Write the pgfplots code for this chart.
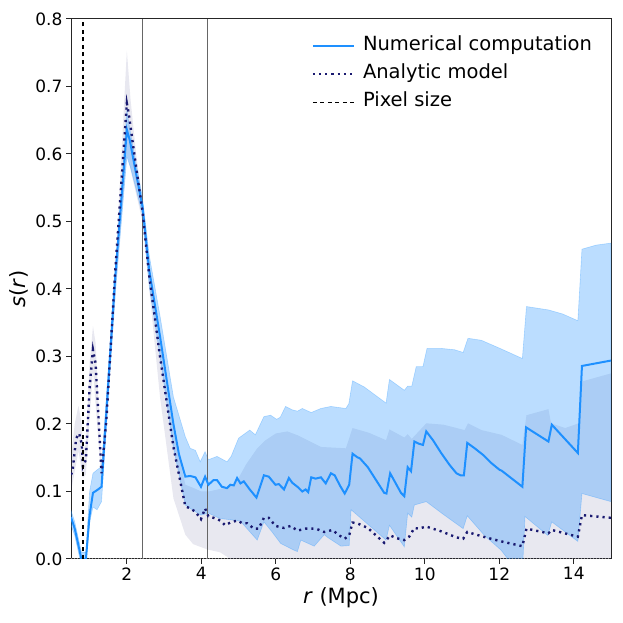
\documentclass[border=0pt]{standalone}
\usepackage{pgfplots}
\pgfplotsset{compat=1.18}
\usepackage{pgfplotstable}
\usepgfplotslibrary{fillbetween}
\usepackage{fontspec}
\setmainfont{DejaVu Sans}
\definecolor{numblue}{HTML}{1E90FF}
\definecolor{anablue}{HTML}{191970}

\pgfplotstableread{
x y
0.50 0.062
0.60 0.045
0.70 0.020
0.78 0.000
0.90 0.000
1.00 0.065
1.09 0.098
1.20 0.102
1.32 0.107
1.50 0.260
1.68 0.413
1.85 0.530
2.00 0.636
2.08 0.620
2.25 0.570
2.42 0.522
2.60 0.428
2.89 0.330
3.07 0.265
3.25 0.200
3.40 0.155
3.57 0.122
3.70 0.123
3.84 0.121
3.99 0.107
4.10 0.122
4.19 0.110
4.33 0.117
4.42 0.117
4.55 0.107
4.69 0.105
4.78 0.110
4.87 0.109
4.96 0.120
5.05 0.112
5.14 0.115
5.30 0.103
5.48 0.091
5.68 0.124
5.81 0.122
5.99 0.110
6.08 0.111
6.22 0.103
6.35 0.120
6.44 0.113
6.58 0.107
6.71 0.100
6.80 0.103
6.87 0.099
6.95 0.121
7.07 0.119
7.21 0.121
7.34 0.112
7.48 0.127
7.58 0.124
7.73 0.108
7.85 0.097
7.97 0.110
8.06 0.156
8.18 0.151
8.26 0.149
8.47 0.136
8.69 0.117
8.91 0.098
8.97 0.097
9.07 0.127
9.23 0.111
9.36 0.098
9.45 0.093
9.54 0.136
9.63 0.130
9.72 0.174
9.83 0.171
9.95 0.169
10.04 0.189
10.22 0.176
10.44 0.157
10.67 0.139
10.85 0.127
10.96 0.124
11.05 0.124
11.14 0.172
11.34 0.164
11.57 0.154
11.79 0.142
12.01 0.132
12.06 0.131
12.62 0.107
12.72 0.195
13.32 0.174
13.41 0.199
14.11 0.157
14.22 0.286
15.00 0.294
}\numline

\pgfplotstableread{
x y
0.50 0.072
0.60 0.055
0.70 0.030
0.78 0.010
0.90 0.010
1.00 0.100
1.09 0.127
1.20 0.132
1.32 0.137
1.50 0.280
1.70 0.430
2.00 0.665
2.10 0.630
2.42 0.535
2.60 0.450
2.89 0.360
3.25 0.240
3.57 0.181
3.70 0.164
3.84 0.161
3.97 0.144
4.10 0.159
4.19 0.147
4.42 0.152
4.69 0.144
4.80 0.152
5.00 0.179
5.15 0.185
5.30 0.191
5.45 0.184
5.68 0.211
5.86 0.213
6.02 0.207
6.12 0.210
6.26 0.226
6.44 0.221
6.58 0.219
6.71 0.223
6.95 0.217
7.21 0.223
7.48 0.226
7.88 0.223
7.96 0.230
8.06 0.264
8.37 0.255
8.64 0.244
8.96 0.231
9.05 0.266
9.45 0.250
9.54 0.256
9.65 0.256
9.77 0.285
9.95 0.285
10.06 0.312
10.44 0.312
10.80 0.310
11.03 0.306
11.16 0.327
11.52 0.324
12.06 0.311
12.62 0.297
12.73 0.374
13.32 0.369
13.70 0.363
14.11 0.353
14.22 0.459
14.60 0.465
15.00 0.468
}\numhi

\pgfplotstableread{
x y
0.50 0.050
0.60 0.035
0.70 0.010
0.78 -0.010
0.90 -0.010
1.00 0.055
1.09 0.077
1.20 0.073
1.32 0.085
1.50 0.240
1.70 0.400
2.00 0.596
2.10 0.580
2.42 0.510
2.60 0.405
2.89 0.300
3.25 0.165
3.57 0.080
3.70 0.075
3.99 0.065
4.19 0.068
4.50 0.060
4.80 0.058
5.05 0.056
5.50 0.028
5.68 0.055
5.90 0.040
6.13 0.023
6.49 0.013
6.58 0.011
6.67 0.028
7.03 0.019
7.30 0.036
7.39 0.032
7.75 0.019
7.97 0.020
8.02 0.073
8.50 0.050
8.96 0.028
9.05 0.050
9.45 0.018
9.54 0.068
9.65 0.062
9.72 0.080
10.04 0.085
10.50 0.066
11.03 0.045
11.14 0.064
11.60 0.035
12.05 0.013
12.30 -0.005
12.62 -0.020
12.69 0.063
13.30 0.035
13.41 0.055
14.11 0.026
14.22 0.097
15.00 0.085
}\numlo

\pgfplotstableread{
x y
0.50 0.125
0.54 0.130
0.64 0.179
0.72 0.186
0.79 0.170
0.82 0.137
0.90 0.147
1.00 0.255
1.09 0.310
1.16 0.290
1.32 0.127
1.45 0.206
1.68 0.420
2.00 0.675
2.05 0.660
2.25 0.580
2.42 0.515
2.60 0.420
2.89 0.300
3.25 0.166
3.57 0.078
3.70 0.075
3.84 0.070
3.99 0.059
4.10 0.075
4.19 0.063
4.33 0.061
4.51 0.057
4.64 0.050
4.78 0.054
4.96 0.057
5.10 0.053
5.23 0.053
5.41 0.045
5.54 0.045
5.68 0.061
5.81 0.061
5.99 0.049
6.22 0.046
6.40 0.049
6.58 0.042
6.80 0.045
7.07 0.045
7.30 0.040
7.52 0.043
7.70 0.035
7.85 0.030
7.97 0.035
8.06 0.054
8.18 0.053
8.47 0.046
8.69 0.035
8.91 0.024
9.07 0.035
9.23 0.031
9.45 0.028
9.58 0.033
9.72 0.046
9.83 0.045
10.04 0.048
10.44 0.041
10.85 0.032
11.03 0.030
11.14 0.040
11.57 0.033
12.06 0.026
12.62 0.019
12.73 0.045
13.32 0.038
13.41 0.043
14.11 0.033
14.22 0.065
15.00 0.061
}\analine

\pgfplotstableread{
x y
0.50 0.150
0.60 0.200
0.70 0.227
0.79 0.200
0.82 0.160
0.90 0.170
1.00 0.290
1.09 0.345
1.16 0.320
1.32 0.140
1.45 0.220
1.70 0.440
2.00 0.753
2.10 0.680
2.25 0.600
2.42 0.530
2.60 0.440
2.89 0.320
3.25 0.190
3.57 0.110
3.80 0.105
4.00 0.100
4.20 0.100
4.60 0.105
4.90 0.110
5.20 0.140
5.50 0.164
5.70 0.175
6.00 0.186
6.31 0.189
6.60 0.183
7.21 0.166
7.88 0.164
8.06 0.194
8.50 0.187
8.96 0.176
9.05 0.192
9.45 0.180
9.54 0.185
9.65 0.178
10.04 0.201
10.50 0.199
11.07 0.191
11.16 0.201
11.52 0.191
12.06 0.184
12.62 0.169
12.73 0.213
13.32 0.222
13.39 0.201
13.77 0.194
14.13 0.201
14.22 0.263
15.00 0.275
}\anahi

\pgfplotstableread{
x y
0.50 0.100
0.70 0.160
0.82 0.120
0.90 0.125
1.09 0.280
1.32 0.115
1.45 0.190
1.70 0.400
2.00 0.600
2.42 0.500
2.89 0.240
3.25 0.090
3.57 0.036
3.78 0.022
4.17 0.014
4.50 0.010
4.70 0.003
4.80 -0.010
15.00 -0.010
}\analo

\begin{document}
\begin{tikzpicture}
\path (0,0) rectangle (623pt,623pt);
\begin{axis}[
  at={(71pt,64pt)}, anchor=south west,
  width=540pt, height=540pt, scale only axis,
  xmin=0.5, xmax=15, ymin=0, ymax=0.8,
  xtick={2,4,6,8,10,12,14},
  ytick={0,0.1,0.2,0.3,0.4,0.5,0.6,0.7,0.8},
  yticklabel style={/pgf/number format/.cd, fixed, fixed zerofill, precision=1},
  /pgf/number format/assume math mode=true,
  tick label style={font=\fontsize{17}{20}\selectfont},
  tick align=outside, major tick length=5pt,
  tick pos=left,
  axis line style={line width=1pt, black!85},
  major tick style={line width=1pt, black!85},
  xlabel={\textit{r} (Mpc)}, ylabel={\textit{s}(\textit{r})},
  label style={font=\fontsize{21}{25}\selectfont},
  xlabel style={at={(axis description cs:0.5,-0.0815)}, anchor=base},
  ylabel style={at={(axis description cs:-0.097,0.5)}, anchor=center},
  legend cell align=left,
  legend image code/.code={\draw[#1] (0pt,0pt) -- (41pt,0pt);},
  legend style={at={(rel axis cs:0.9685,0.9705)}, anchor=north east,
    draw=none, fill=none, inner sep=0pt, outer sep=0pt,
    font=\fontsize{19.5}{23}\selectfont, row sep=5.5pt, column sep=6pt,
    nodes={inner sep=2pt, text height=14pt, text depth=4.5pt}},
]
\addplot[draw=none, name path=ahi, forget plot] table {\anahi};
\addplot[draw=none, name path=alo, forget plot] table {\analo};
\addplot[draw=none, name path=nhi, forget plot] table {\numhi};
\addplot[draw=none, name path=nlo, forget plot] table {\numlo};
\addplot[fill=anablue, fill opacity=0.1, draw=none, forget plot] fill between[of=ahi and alo];
\addplot[fill=numblue, fill opacity=0.3, draw=numblue, draw opacity=0.3, line width=0.6pt, forget plot] fill between[of=nhi and nlo];
\addplot[black!60, line width=0.9pt, forget plot] coordinates {(2.42,0) (2.42,0.8)};
\addplot[black!60, line width=0.9pt, forget plot] coordinates {(4.17,0) (4.17,0.8)};
\addplot[black!45, line width=1pt, dotted, forget plot] coordinates {(0.5,0) (15,0)};
\addplot[numblue, line width=2pt] table {\numline};
\addlegendentry{Numerical computation}
\addplot[anablue, line width=2.4pt, dash pattern=on 2.2pt off 4pt] table {\analine};
\addlegendentry{Analytic model}
\addplot[black, line width=1.3pt, dash pattern=on 4pt off 3.5pt] coordinates {(0.82,0) (0.82,0.8)};
\addlegendentry{Pixel size}
\end{axis}
\end{tikzpicture}
\end{document}
